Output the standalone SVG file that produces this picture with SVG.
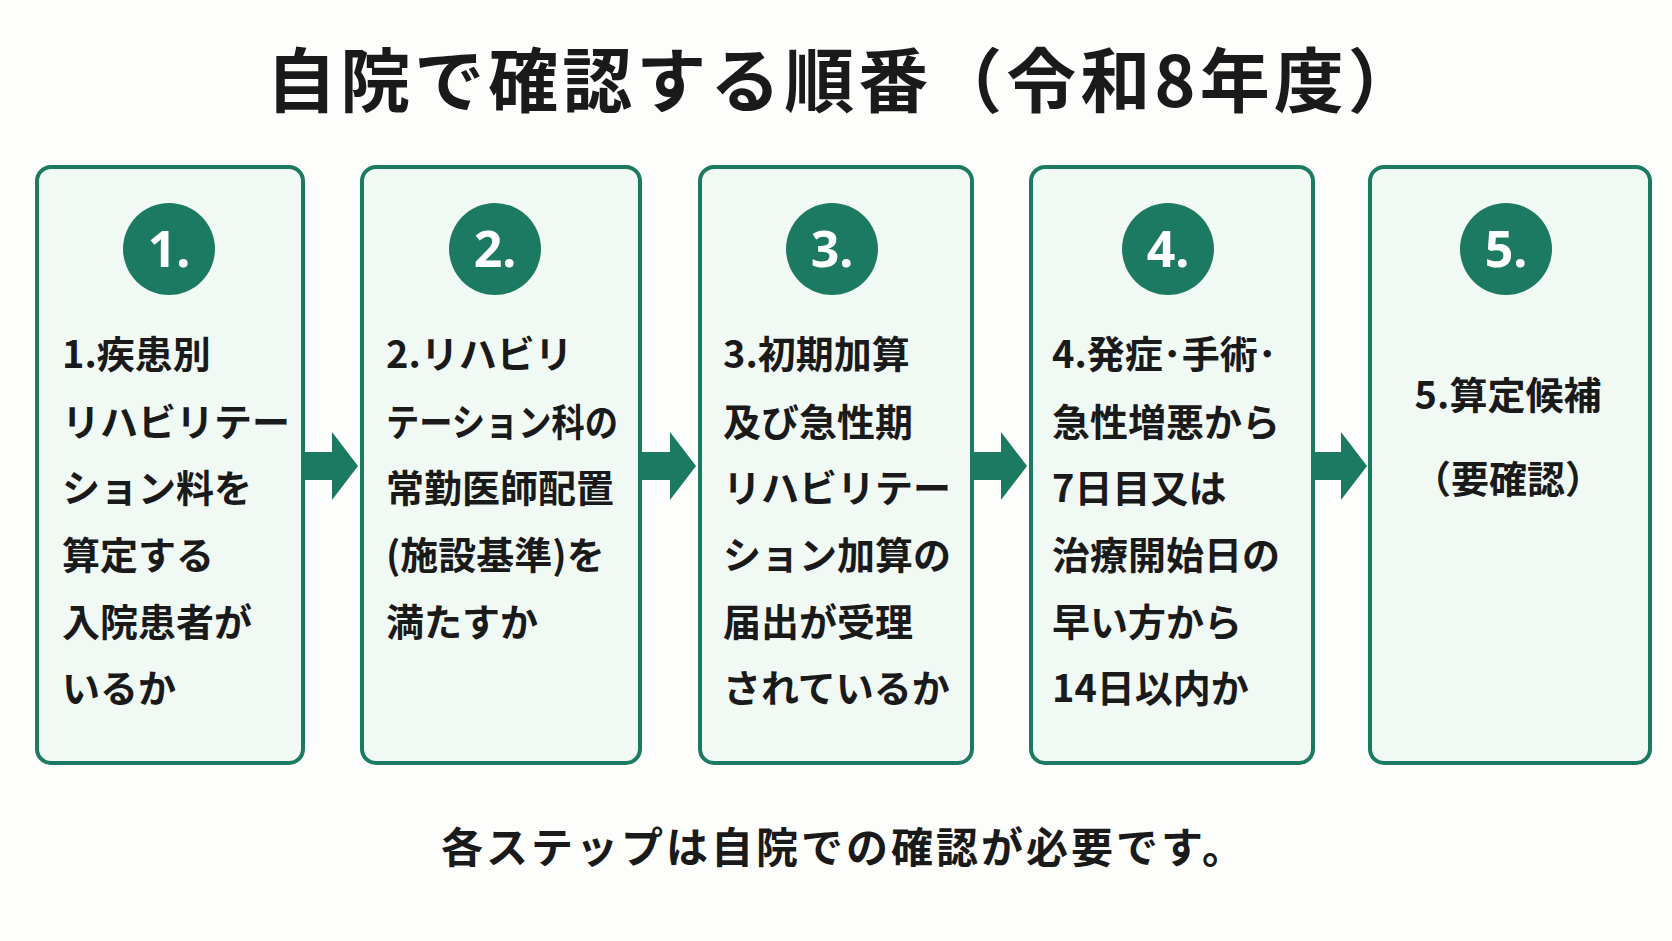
<svg xmlns="http://www.w3.org/2000/svg" width="1672" height="941" viewBox="0 0 1672 941">
<style>
.box{fill:#f1f9f5;stroke:#1d7a62;stroke-width:4}
.c{fill:#1d7a62}
.n{fill:#fff;font:bold 50px "Noto Sans","Noto Sans CJK JP",sans-serif;text-anchor:middle}
.t{fill:#1a1a1a;font:bold 38px "Noto Sans CJK JP",sans-serif}
.ar{fill:#1d7a62}
</style>
<rect width="1672" height="941" fill="#fdfdfc"/>
<text x="844" y="107" text-anchor="middle" style="fill:#1a1a1a;font:bold 70px 'Noto Sans CJK JP',sans-serif;letter-spacing:4px">自院で確認する順番（令和8年度）</text>
<g id="connectors">
<polygon class="ar" points="303,452 332,452 332,432 358,466 332,500 332,480 303,480"/>
<polygon class="ar" points="640,452 670,452 670,432 696,466 670,500 670,480 640,480"/>
<polygon class="ar" points="972,452 1001,452 1001,432 1027,466 1001,500 1001,480 972,480"/>
<polygon class="ar" points="1313,452 1341,452 1341,432 1367,466 1341,500 1341,480 1313,480"/>
</g>
<g id="n1"><rect class="box" x="37" y="167" width="266" height="596" rx="14"/><circle class="c" cx="169" cy="249" r="46"/><text class="n" x="169" y="267">1.</text>
<text class="t"><tspan x="62" y="368">1.疾患別</tspan><tspan x="62" y="436">リハビリテー</tspan><tspan x="62" y="502">ション料を</tspan><tspan x="62" y="569">算定する</tspan><tspan x="62" y="636">入院患者が</tspan><tspan x="62" y="702">いるか</tspan></text></g>
<g id="n2"><rect class="box" x="362" y="167" width="278" height="596" rx="14"/><circle class="c" cx="495" cy="249" r="46"/><text class="n" x="495" y="267">2.</text>
<text class="t"><tspan x="386" y="368">2.リハビリ</tspan></text>
<text class="t" x="386" y="436" textLength="232" lengthAdjust="spacingAndGlyphs">テーション科の</text>
<text class="t"><tspan x="386" y="502">常勤医師配置</tspan><tspan x="386" y="569">(施設基準)を</tspan><tspan x="386" y="636">満たすか</tspan></text></g>
<g id="n3"><rect class="box" x="700" y="167" width="272" height="596" rx="14"/><circle class="c" cx="832" cy="249" r="46"/><text class="n" x="832" y="267">3.</text>
<text class="t"><tspan x="723" y="368">3.初期加算</tspan><tspan x="723" y="436">及び急性期</tspan><tspan x="723" y="502">リハビリテー</tspan><tspan x="723" y="569">ション加算の</tspan><tspan x="723" y="636">届出が受理</tspan><tspan x="723" y="702">されているか</tspan></text></g>
<g id="n4"><rect class="box" x="1031" y="167" width="282" height="596" rx="14"/><circle class="c" cx="1168" cy="249" r="46"/><text class="n" x="1168" y="267">4.</text>
<text class="t"><tspan x="1052" y="368">4.発症･手術･</tspan><tspan x="1052" y="436">急性増悪から</tspan><tspan x="1052" y="502">7日目又は</tspan><tspan x="1052" y="569">治療開始日の</tspan><tspan x="1052" y="636">早い方から</tspan><tspan x="1052" y="702">14日以内か</tspan></text></g>
<g id="n5"><rect class="box" x="1370" y="167" width="280" height="596" rx="14"/><circle class="c" cx="1506" cy="249" r="46"/><text class="n" x="1506" y="267">5.</text>
<text class="t" text-anchor="middle"><tspan x="1508" y="409">5.算定候補</tspan><tspan x="1508" y="493">（要確認）</tspan></text></g>
<text x="844" y="863" text-anchor="middle" style="fill:#1a1a1a;font:bold 42px 'Noto Sans CJK JP',sans-serif;letter-spacing:3px">各ステップは自院での確認が必要です。</text>
</svg>
